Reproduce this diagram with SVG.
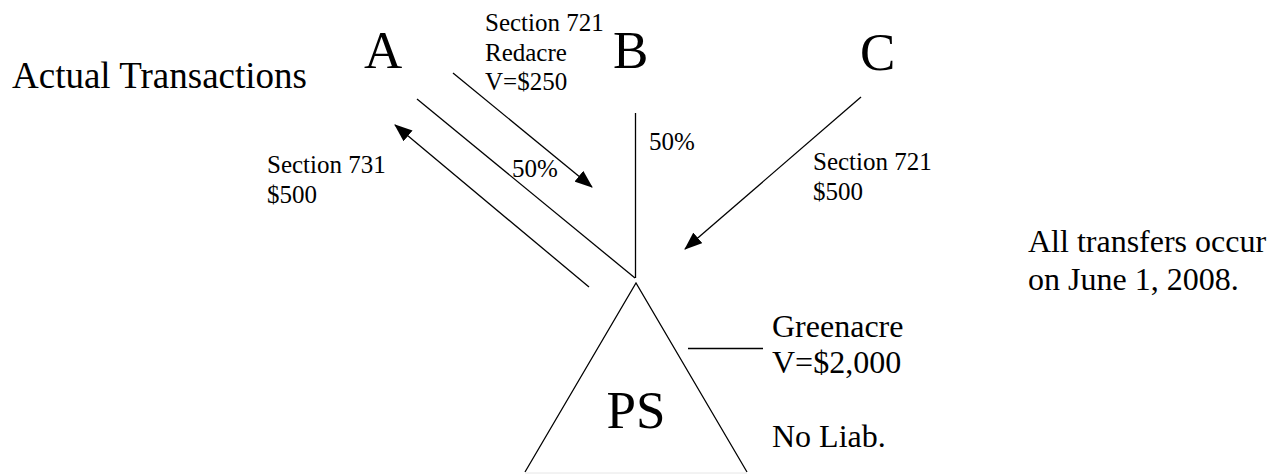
<svg xmlns="http://www.w3.org/2000/svg" width="1278" height="474" viewBox="0 0 1278 474">
  <style>
    text { font-family: "Liberation Serif", "Times New Roman", serif; fill: #000; }
    .big { font-size: 53px; }
    .title { font-size: 37px; }
    .lbl { font-size: 32px; }
    .sm { font-size: 25px; }
    .ln { stroke: #000; stroke-width: 1.3; fill: none; }
    .arr { stroke: #000; stroke-width: 1.3; fill: none; marker-end: url(#head); }
  </style>
  <defs>
    <marker id="head" viewBox="0 0 18 14" refX="17" refY="7" markerWidth="18" markerHeight="14" markerUnits="userSpaceOnUse" orient="auto">
      <path d="M0,0 L18,7 L0,14 Z" fill="#000"/>
    </marker>
  </defs>
  <rect width="1278" height="474" fill="#fff"/>

  <text class="title" x="12" y="88">Actual Transactions</text>

  <g id="partner-a"><text class="big" x="364" y="68">A</text></g>
  <g id="partner-b"><text class="big" x="613" y="68">B</text></g>
  <g id="partner-c"><text class="big" x="860" y="70">C</text></g>

  <g id="ps">
    <polyline class="ln" points="525,472 636,283 747,472"/>
    <line x1="525" y1="473" x2="747" y2="473" stroke="#e6e6e6" stroke-width="1"/>
    <text class="big" x="636" y="428" text-anchor="middle">PS</text>
  </g>

  <g id="property">
    <line class="ln" x1="688" y1="348.5" x2="763" y2="348.5"/>
    <text class="lbl" x="772" y="337">Greenacre</text>
    <text class="lbl" x="772" y="373">V=$2,000</text>
    <text class="lbl" x="772" y="447">No Liab.</text>
  </g>

  <g id="note">
    <text class="lbl" x="1028" y="252">All transfers occur</text>
    <text class="lbl" x="1028" y="290">on June 1, 2008.</text>
  </g>

  <g id="connectors">
    <!-- ownership interests -->
    <line class="ln" x1="417" y1="99" x2="635" y2="278"/>
    <line class="ln" x1="635.5" y1="113" x2="635.5" y2="278"/>
    <!-- transfers -->
    <line class="arr" x1="589" y1="287" x2="395" y2="125"/>
    <line class="arr" x1="453" y1="73" x2="592" y2="187"/>
    <line class="arr" x1="861" y1="97" x2="685" y2="249"/>
  </g>

  <g id="labels">
    <text class="sm" x="485" y="31">Section 721</text>
    <text class="sm" x="485" y="61">Redacre</text>
    <text class="sm" x="485" y="90">V=$250</text>
    <text class="sm" x="267" y="173">Section 731</text>
    <text class="sm" x="267" y="203">$500</text>
    <text class="sm" x="813" y="170">Section 721</text>
    <text class="sm" x="813" y="200">$500</text>
    <text class="sm" x="512" y="177">50%</text>
    <text class="sm" x="649" y="150">50%</text>
  </g>
</svg>
